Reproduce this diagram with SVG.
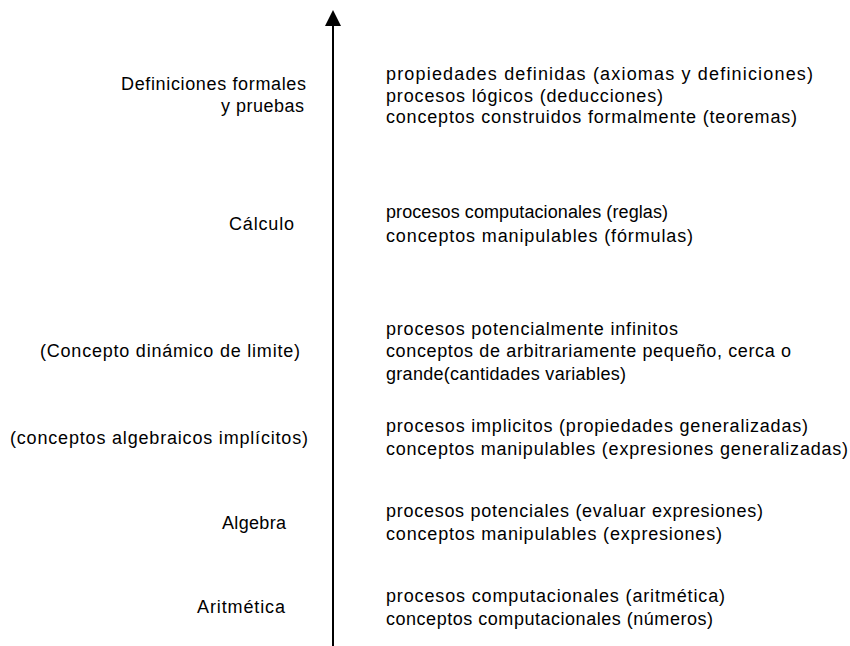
<svg xmlns="http://www.w3.org/2000/svg" width="850" height="646" viewBox="0 0 850 646">
<style>
text{font-family:"Liberation Sans",Arial,sans-serif;font-size:18px;fill:#000}
.ax{stroke:#000;stroke-width:2;fill:none}
</style>
<rect width="850" height="646" fill="#fff"/>
<g id="connectors">
<line class="ax" x1="333" y1="646" x2="333" y2="26"/>
<path d="M333,10 L341,26 L325,26 Z" fill="#000"/>
</g>
<g id="formales">
<text x="121" y="90" textLength="185" lengthAdjust="spacing">Definiciones formales</text>
<text x="221" y="112" textLength="83" lengthAdjust="spacing">y pruebas</text>
<text x="386" y="80" textLength="427" lengthAdjust="spacing">propiedades definidas (axiomas y definiciones)</text>
<text x="386" y="102" textLength="277" lengthAdjust="spacing">procesos lógicos (deducciones)</text>
<text x="386" y="123" textLength="411" lengthAdjust="spacing">conceptos construidos formalmente (teoremas)</text>
</g>
<g id="calculo">
<text x="229" y="230" textLength="65" lengthAdjust="spacing">Cálculo</text>
<text x="386" y="218" textLength="282" lengthAdjust="spacing">procesos computacionales (reglas)</text>
<text x="386" y="242" textLength="307" lengthAdjust="spacing">conceptos manipulables (fórmulas)</text>
</g>
<g id="limite">
<text x="40" y="357" textLength="260" lengthAdjust="spacing">(Concepto dinámico de limite)</text>
<text x="386" y="335" textLength="292" lengthAdjust="spacing">procesos potencialmente infinitos</text>
<text x="386" y="357" textLength="405" lengthAdjust="spacing">conceptos de arbitrariamente pequeño, cerca o</text>
<text x="386" y="380" textLength="240" lengthAdjust="spacing">grande(cantidades variables)</text>
</g>
<g id="implicitos">
<text x="10" y="444" textLength="298" lengthAdjust="spacing">(conceptos algebraicos implícitos)</text>
<text x="386" y="432" textLength="422" lengthAdjust="spacing">procesos implicitos (propiedades generalizadas)</text>
<text x="386" y="455" textLength="462" lengthAdjust="spacing">conceptos manipulables (expresiones generalizadas)</text>
</g>
<g id="algebra">
<text x="222" y="529" textLength="64" lengthAdjust="spacing">Algebra</text>
<text x="386" y="517" textLength="377" lengthAdjust="spacing">procesos potenciales (evaluar expresiones)</text>
<text x="386" y="540" textLength="336" lengthAdjust="spacing">conceptos manipulables (expresiones)</text>
</g>
<g id="aritmetica">
<text x="197" y="613" textLength="88" lengthAdjust="spacing">Aritmética</text>
<text x="386" y="602" textLength="339" lengthAdjust="spacing">procesos computacionales (aritmética)</text>
<text x="386" y="625" textLength="327" lengthAdjust="spacing">conceptos computacionales (números)</text>
</g>
</svg>
